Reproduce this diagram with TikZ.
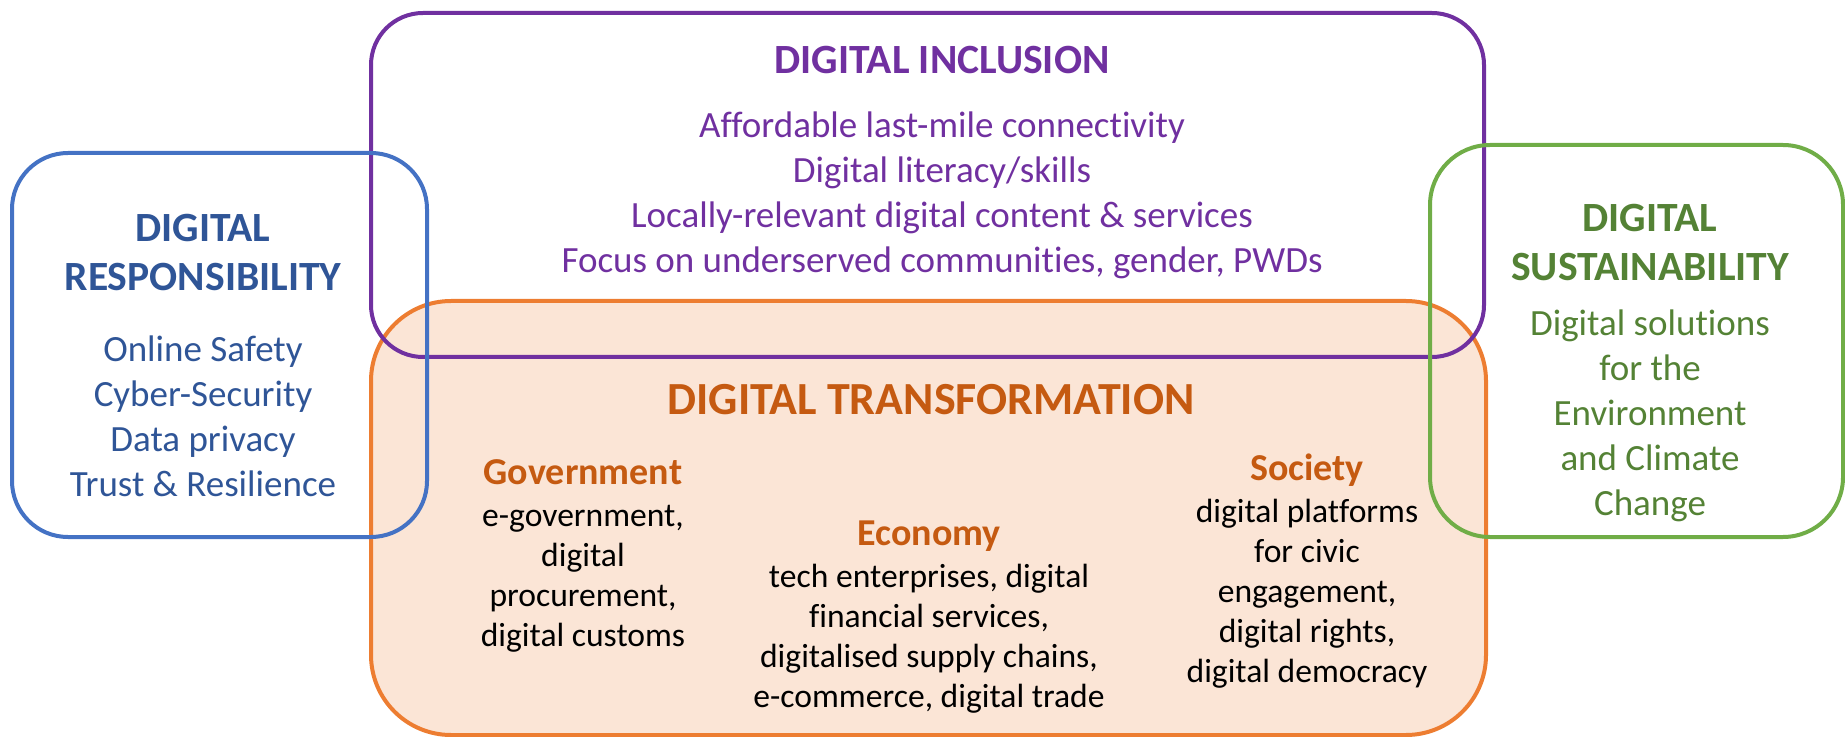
\documentclass[tikz,border=0pt]{standalone}
\usepackage{fontspec}
\setmainfont{Carlito}[Ligatures=NoCommon]
\usepackage{tikz}
\definecolor{respblue}{RGB}{68,114,196}
\definecolor{resptext}{RGB}{47,85,151}
\definecolor{inclpurple}{RGB}{112,48,160}
\definecolor{transorange}{RGB}{237,125,49}
\definecolor{transback}{RGB}{251,229,214}
\definecolor{transtext}{RGB}{197,90,17}
\definecolor{sustgreen}{RGB}{112,173,71}
\definecolor{susttext}{RGB}{84,130,53}
\tikzset{
  title/.style={font=\bfseries\fontsize{20.8}{24.5}\selectfont,align=center,inner sep=0pt},
  body/.style={font=\fontsize{18.5}{22.5}\selectfont,align=center,inner sep=0pt},
  small/.style={font=\fontsize{16.8}{20}\selectfont,align=center,inner sep=0pt},
  head/.style={font=\bfseries\fontsize{19}{20}\selectfont,text=transtext,inner sep=0pt,anchor=base}
}

\begin{document}
\begin{tikzpicture}[x=0.5pt,y=-0.5pt]
\useasboundingbox (0,0) rectangle (1845,737);
% transformation box goes under the others
\draw [transorange,fill=transback,line width=2pt,rounded corners=40pt] (371,301) rectangle (1486,735);
\draw [inclpurple,line width=2pt,rounded corners=26pt] (371,13) rectangle (1484,357);
\draw [respblue,line width=2pt,rounded corners=28pt] (12,153) rectangle (427,537);
\draw [sustgreen,line width=2pt,rounded corners=30pt] (1430,145) rectangle (1843,537);

\node [title,text=inclpurple] (inctitle) at (942,60) {DIGITAL INCLUSION};
\node [body,text=inclpurple] (inctext) at (942,195)
{Affordable last-mile connectivity\\
Digital literacy/skills\\
Locally-relevant digital content \& services\\
Focus on underserved communities, gender, PWDs};

\node [title,text=resptext] (resptitle) at (203,253) {DIGITAL\\RESPONSIBILITY};
\node [body,text=resptext] (resptext) at (203,416)
{Online Safety\\Cyber-Security\\Data privacy\\Trust \& Resilience};

\node [title,text=susttext] (susttitle) at (1650,243) {DIGITAL\\SUSTAINABILITY};
\node [body,text=susttext] (susttext) at (1650,416)
{Digital solutions\\for the\\Environment\\and Climate\\Change};

\node [title,font=\bfseries\fontsize{23}{26}\selectfont,text=transtext] (transtitle) at (931,400) {DIGITAL TRANSFORMATION};

\node [head] (govhead) at (583,484) {Government};
\node [small] (govtext) at (583,579)
{e-government,\\digital\\procurement,\\digital customs};

\node [head] (ecohead) at (929,545) {Economy};
\node [small] (ecotext) at (929,639)
{tech enterprises, digital\\financial services,\\digitalised supply chains,\\e-commerce, digital trade};

\node [head] (sochead) at (1307,480) {Society};
\node [small] (soctext) at (1307,594)
{digital platforms\\for civic\\engagement,\\digital rights,\\digital democracy};
\end{tikzpicture}
\end{document}
